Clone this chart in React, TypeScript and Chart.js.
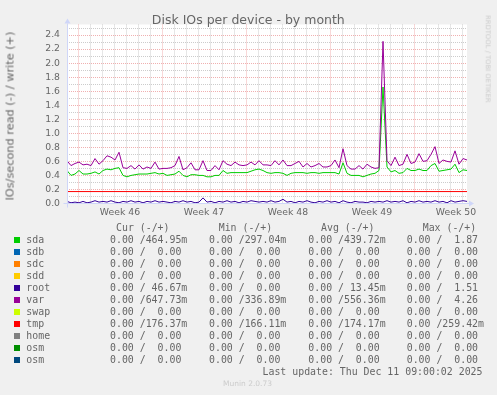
import React, { useEffect, useRef } from "react";
import { Chart, registerables } from "chart.js";

Chart.register(...registerables);

// ---- data (IOs/second, write side; read side is 0 for every device) ----
const sampleStepHours = 8;
const firstWeekStartHour = 22;
const axisSpanHours = 800;

const sda = [
  0.47, 0.40, 0.42, 0.47, 0.42, 0.42, 0.43, 0.45, 0.42, 0.47,
  0.49, 0.48, 0.50, 0.51, 0.40, 0.38, 0.40, 0.41, 0.42, 0.42,
  0.42, 0.43, 0.44, 0.42, 0.43, 0.40, 0.41, 0.42, 0.46, 0.40,
  0.38, 0.41, 0.41, 0.40, 0.40, 0.38, 0.38, 0.40, 0.40, 0.47,
  0.43, 0.44, 0.44, 0.44, 0.44, 0.44, 0.46, 0.48, 0.49, 0.47,
  0.44, 0.43, 0.44, 0.44, 0.43, 0.40, 0.43, 0.44, 0.44, 0.44,
  0.43, 0.44, 0.44, 0.43, 0.44, 0.44, 0.44, 0.44, 0.42, 0.58,
  0.43, 0.40, 0.40, 0.40, 0.38, 0.40, 0.42, 0.43, 0.47, 1.66,
  0.52, 0.45, 0.47, 0.43, 0.44, 0.50, 0.47, 0.47, 0.49, 0.47,
  0.47, 0.54, 0.57, 0.46, 0.47, 0.48, 0.49, 0.56, 0.44, 0.48,
  0.47,
];

const varWrite = [
  0.61, 0.54, 0.57, 0.59, 0.55, 0.56, 0.54, 0.64, 0.56, 0.61,
  0.68, 0.66, 0.62, 0.73, 0.51, 0.50, 0.54, 0.49, 0.55, 0.49,
  0.52, 0.50, 0.59, 0.49, 0.50, 0.50, 0.51, 0.54, 0.67, 0.48,
  0.51, 0.58, 0.48, 0.48, 0.61, 0.47, 0.47, 0.54, 0.48, 0.61,
  0.56, 0.54, 0.59, 0.55, 0.54, 0.55, 0.59, 0.55, 0.61, 0.55,
  0.55, 0.54, 0.61, 0.55, 0.62, 0.54, 0.54, 0.57, 0.60, 0.52,
  0.57, 0.52, 0.54, 0.57, 0.52, 0.52, 0.54, 0.62, 0.51, 0.78,
  0.54, 0.49, 0.49, 0.54, 0.49, 0.56, 0.52, 0.50, 0.51, 2.31,
  0.61, 0.54, 0.66, 0.54, 0.56, 0.70, 0.57, 0.59, 0.71, 0.60,
  0.61, 0.70, 0.81, 0.57, 0.62, 0.60, 0.59, 0.75, 0.56, 0.64,
  0.62,
];

const rootWrite = [
  0.03, 0.01, 0.02, 0.01, 0.03, 0.01, 0.02, 0.04, 0.02, 0.03,
  0.02, 0.04, 0.02, 0.01, 0.03, 0.02, 0.04, 0.02, 0.03, 0.01,
  0.03, 0.02, 0.04, 0.02, 0.03, 0.02, 0.01, 0.03, 0.02, 0.04,
  0.02, 0.03, 0.01, 0.02, 0.08, 0.02, 0.03, 0.01, 0.03, 0.02,
  0.04, 0.02, 0.03, 0.01, 0.03, 0.02, 0.04, 0.03, 0.02, 0.03,
  0.02, 0.04, 0.02, 0.03, 0.06, 0.02, 0.03, 0.01, 0.03, 0.02,
  0.04, 0.02, 0.01, 0.03, 0.02, 0.04, 0.02, 0.03, 0.01, 0.04,
  0.02, 0.01, 0.03, 0.02, 0.02, 0.01, 0.03, 0.02, 0.03, 0.02,
  0.04, 0.02, 0.03, 0.02, 0.04, 0.01, 0.03, 0.02, 0.04, 0.02,
  0.03, 0.02, 0.04, 0.02, 0.03, 0.01, 0.04, 0.02, 0.03, 0.04,
  0.03,
];

const tmpWrite = [
  0.17, 0.17, 0.17, 0.17, 0.17, 0.17, 0.17, 0.17, 0.17, 0.17,
  0.17, 0.17, 0.17, 0.17, 0.17, 0.17, 0.17, 0.17, 0.17, 0.17,
  0.17, 0.17, 0.17, 0.17, 0.17, 0.17, 0.17, 0.17, 0.17, 0.17,
  0.17, 0.17, 0.17, 0.17, 0.17, 0.17, 0.17, 0.17, 0.17, 0.17,
  0.17, 0.17, 0.17, 0.17, 0.17, 0.17, 0.17, 0.17, 0.17, 0.17,
  0.17, 0.17, 0.17, 0.17, 0.17, 0.17, 0.17, 0.17, 0.17, 0.17,
  0.17, 0.17, 0.17, 0.17, 0.17, 0.17, 0.17, 0.17, 0.17, 0.17,
  0.17, 0.17, 0.17, 0.17, 0.17, 0.17, 0.17, 0.17, 0.17, 0.17,
  0.17, 0.17, 0.17, 0.17, 0.17, 0.17, 0.17, 0.17, 0.17, 0.17,
  0.17, 0.17, 0.17, 0.17, 0.17, 0.17, 0.17, 0.17, 0.17, 0.17,
  0.17,
];

const edgeHours = [0, 800];
const zeroWrite = [0, 0];

const weekLabels = ["Week 46", "Week 47", "Week 48", "Week 49", "Week 50"];
const yMax = 2.55;
const yStep = 0.1;

// ---- legend table (text) ----
const legendNames = ["sda", "sdb", "sdc", "sdd", "root", "var", "swap", "tmp", "home", "osm", "osm"];
const legendColors = ["#00CC00", "#0066B3", "#FF8000", "#FFCC00", "#330099", "#990099", "#CCFF00", "#FF0000", "#808080", "#008F00", "#00487D"];
const curCol = ["0.00 /464.95m", "0.00 /  0.00", "0.00 /  0.00", "0.00 /  0.00", "0.00 / 46.67m", "0.00 /647.73m", "0.00 /  0.00", "0.00 /176.37m", "0.00 /  0.00", "0.00 /  0.00", "0.00 /  0.00"];
const minCol = ["0.00 /297.04m", "0.00 /  0.00", "0.00 /  0.00", "0.00 /  0.00", "0.00 /  0.00", "0.00 /336.89m", "0.00 /  0.00", "0.00 /166.11m", "0.00 /  0.00", "0.00 /  0.00", "0.00 /  0.00"];
const avgCol = ["0.00 /439.72m", "0.00 /  0.00", "0.00 /  0.00", "0.00 /  0.00", "0.00 / 13.45m", "0.00 /556.36m", "0.00 /  0.00", "0.00 /174.17m", "0.00 /  0.00", "0.00 /  0.00", "0.00 /  0.00"];
const maxCol = ["0.00 /  1.87", "0.00 /  0.00", "0.00 /  0.00", "0.00 /  0.00", "0.00 /  1.51", "0.00 /  4.26", "0.00 /  0.00", "0.00 /259.42m", "0.00 /  0.00", "0.00 /  0.00", "0.00 /  0.00"];
const headers = ["Cur (-/+)", "Min (-/+)", "Avg (-/+)", "Max (-/+)"];

const FONT = "#666666";
const AXIS = "#CFD6F8";
const GRID_MINOR = "rgba(143,143,143,0.45)";
const GRID_MAJOR = "rgba(222,79,79,0.45)";

const sans = '"DejaVu Sans", sans-serif';
const mono = '"DejaVu Sans Mono", monospace';

function Txt(props: { x: number; y: number; children: any; style?: any; anchor?: "start" | "middle" | "end" }) {
  const { x, y, children, style, anchor = "start" } = props;
  const tx = anchor === "middle" ? "-50%" : anchor === "end" ? "-100%" : "0";
  return (
    <div
      style={{
        position: "absolute",
        left: x,
        top: y,
        transform: `translate(${tx}, -50%)`,
        whiteSpace: "pre",
        lineHeight: "1.15",
        color: FONT,
        ...style,
      }}
    >
      {children}
    </div>
  );
}

export default function App() {
  const ref = useRef<HTMLCanvasElement>(null);

  useEffect(() => {
    const hours = sda.map((_, i) => i * sampleStepHours);
    const pts = (vals: number[], xs: number[]) => vals.map((y, i) => ({ x: xs[i], y }));

    const series = [
      { label: "sda", data: pts(sda, hours) },
      { label: "sdb", data: pts(zeroWrite, edgeHours) },
      { label: "sdc", data: pts(zeroWrite, edgeHours) },
      { label: "sdd", data: pts(zeroWrite, edgeHours) },
      { label: "root", data: pts(rootWrite, hours) },
      { label: "var", data: pts(varWrite, hours) },
      { label: "swap", data: pts(zeroWrite, edgeHours) },
      { label: "tmp", data: pts(tmpWrite, hours) },
      { label: "home", data: pts(zeroWrite, edgeHours) },
      { label: "osm", data: pts(zeroWrite, edgeHours) },
      { label: "osm", data: pts(zeroWrite, edgeHours) },
    ];

    const weekStarts: number[] = [];
    const weekCenters: number[] = [];
    for (let h = firstWeekStartHour; h <= axisSpanHours; h += 168) {
      weekStarts.push(h);
      if (h + 84 <= axisSpanHours) weekCenters.push(h + 84);
    }
    const dayLines: number[] = [];
    for (let h = firstWeekStartHour; h <= axisSpanHours; h += 24) dayLines.push(h);
    const xTickValues = [...dayLines, ...weekCenters].sort((a, b) => a - b);
    const yTickValues: number[] = [];
    for (let k = 0; k * yStep <= yMax; k++) yTickValues.push(Math.round(k * yStep * 10) / 10);

    const bgPlugin = {
      id: "canvasBg",
      beforeDraw(chart: any) {
        const { ctx, chartArea: a } = chart;
        ctx.save();
        ctx.fillStyle = "#FFFFFF";
        ctx.fillRect(a.left, a.top, a.right - a.left, a.bottom - a.top);
        ctx.restore();
      },
    };

    const axisPlugin = {
      id: "rrdAxes",
      afterDatasetsDraw(chart: any) {
        const { ctx, chartArea: a } = chart;
        ctx.save();
        ctx.strokeStyle = AXIS;
        ctx.fillStyle = AXIS;
        ctx.lineWidth = 1;
        const x0 = Math.round(a.left) + 0.5;
        const y0 = a.bottom;
        ctx.beginPath();
        ctx.moveTo(x0 - 4, y0);
        ctx.lineTo(a.right + 2, y0);
        ctx.moveTo(x0, y0 + 4);
        ctx.lineTo(x0, a.top - 1);
        ctx.stroke();
        // arrows
        ctx.beginPath();
        ctx.moveTo(a.right + 2, y0 - 3);
        ctx.lineTo(a.right + 7, y0);
        ctx.lineTo(a.right + 2, y0 + 3);
        ctx.closePath();
        ctx.fill();
        ctx.beginPath();
        ctx.moveTo(x0 - 3, a.top - 1);
        ctx.lineTo(x0, a.top - 6);
        ctx.lineTo(x0 + 3, a.top - 1);
        ctx.closePath();
        ctx.fill();
        ctx.restore();
      },
    };

    const chart = new Chart(ref.current as HTMLCanvasElement, {
      type: "line",
      data: {
        datasets: series.map((s, i) => ({
          label: s.label,
          data: s.data,
          borderColor: legendColors[i],
          backgroundColor: legendColors[i],
          borderWidth: 1,
          pointRadius: 0,
          tension: 0,
          fill: false,
          order: -i,
        })),
      },
      options: {
        responsive: false,
        animation: false,
        devicePixelRatio: 1,
        layout: { padding: { left: 0, right: 30, top: 24.5, bottom: 169.5 } },
        plugins: { legend: { display: false }, tooltip: { enabled: false }, title: { display: false } },
        scales: {
          x: {
            type: "linear",
            min: 0,
            max: axisSpanHours,
            afterFit(s: any) {
              s.height = 22;
            },
            afterBuildTicks(s: any) {
              s.ticks = xTickValues.map((v) => ({ value: v }));
            },
            ticks: {
              autoSkip: false,
              maxRotation: 0,
              minRotation: 0,
              padding: 4,
              color: FONT,
              font: { family: "DejaVu Sans", size: 9.3 },
              callback: (v: any) => {
                const k = weekCenters.indexOf(Number(v));
                return k >= 0 ? weekLabels[k] : "";
              },
            },
            grid: {
              drawTicks: false,
              lineWidth: 1,
              color: (c: any) => {
                const v = c.tick ? c.tick.value : -1;
                if (weekCenters.includes(v)) return "rgba(0,0,0,0)";
                if (weekStarts.includes(v)) return GRID_MAJOR;
                return GRID_MINOR;
              },
            },
            border: { display: false, dash: [1, 1] },
          },
          y: {
            type: "linear",
            min: 0,
            max: yMax,
            afterFit(s: any) {
              s.width = 67;
            },
            afterBuildTicks(s: any) {
              s.ticks = yTickValues.map((v) => ({ value: v }));
            },
            ticks: {
              autoSkip: false,
              padding: 7,
              color: FONT,
              font: { family: "DejaVu Sans", size: 9.3 },
              callback: (v: any) => (Math.round(Number(v) * 10) % 2 === 0 ? Number(v).toFixed(1) : ""),
            },
            grid: {
              drawTicks: false,
              lineWidth: 1,
              color: (c: any) => {
                const v = c.tick ? c.tick.value : 0;
                return Math.round(v * 10) % 2 === 0 ? GRID_MAJOR : GRID_MINOR;
              },
            },
            border: { display: false, dash: [1, 1] },
          },
        },
      },
      plugins: [bgPlugin, axisPlugin],
    } as any);

    return () => chart.destroy();
  }, []);

  const rowY0 = 239.7;
  const rowH = 12;
  const colX = [110, 209, 308.3, 406.7];
  const headX = [116, 218.7, 321, 422.7];
  const cols = [curCol, minCol, avgCol, maxCol];

  return (
    <div
      style={{
        position: "fixed",
        left: 0,
        top: 0,
        width: 497,
        height: 395,
        background: "#F0F0F0",
        overflow: "hidden",
      }}
    >
      <canvas ref={ref} width={497} height={395} style={{ position: "absolute", left: 0, top: 0, width: 497, height: 395 }} />
      <Txt x={248.3} y={20} anchor="middle" style={{ fontFamily: sans, fontSize: 12.5 }}>
        Disk IOs per device - by month
      </Txt>
      <div
        style={{
          position: "absolute",
          left: 10,
          top: 116,
          transform: "translate(-50%, -50%) rotate(-90deg)",
          whiteSpace: "pre",
          fontFamily: sans,
          fontSize: 11.3,
          lineHeight: "1.15",
          color: FONT,
        }}
      >
        IOs/second read (-) / write (+)
      </div>
      <div
        style={{
          position: "absolute",
          left: 486.5,
          top: 58.5,
          transform: "translate(-50%, -50%) rotate(90deg)",
          whiteSpace: "pre",
          fontFamily: sans,
          fontSize: 6.8,
          lineHeight: "1.1",
          color: "#CCCCCC",
        }}
      >
        RRDTOOL / TOBI OETIKER
      </div>
      {headers.map((h, j) => (
        <Txt key={"h" + j} x={headX[j]} y={227.7} style={{ fontFamily: mono, fontSize: 9.9 }}>
          {h}
        </Txt>
      ))}
      {legendNames.map((n, i) => (
        <React.Fragment key={"r" + i}>
          <div
            style={{
              position: "absolute",
              left: 14,
              top: rowY0 + i * rowH - 3,
              width: 6,
              height: 6,
              background: legendColors[i],
            }}
          />
          <Txt x={26.3} y={rowY0 + i * rowH} style={{ fontFamily: mono, fontSize: 9.9 }}>
            {n}
          </Txt>
          {cols.map((c, j) => (
            <Txt key={"c" + j} x={colX[j]} y={rowY0 + i * rowH} style={{ fontFamily: mono, fontSize: 9.9 }}>
              {c[i]}
            </Txt>
          ))}
        </React.Fragment>
      ))}
      <Txt x={482.5} y={371.7} anchor="end" style={{ fontFamily: mono, fontSize: 9.9 }}>
        Last update: Thu Dec 11 09:00:02 2025
      </Txt>
      <Txt x={247.5} y={384} anchor="middle" style={{ fontFamily: sans, fontSize: 7.5, color: "#CCCCCC" }}>
        Munin 2.0.73
      </Txt>
    </div>
  );
}
